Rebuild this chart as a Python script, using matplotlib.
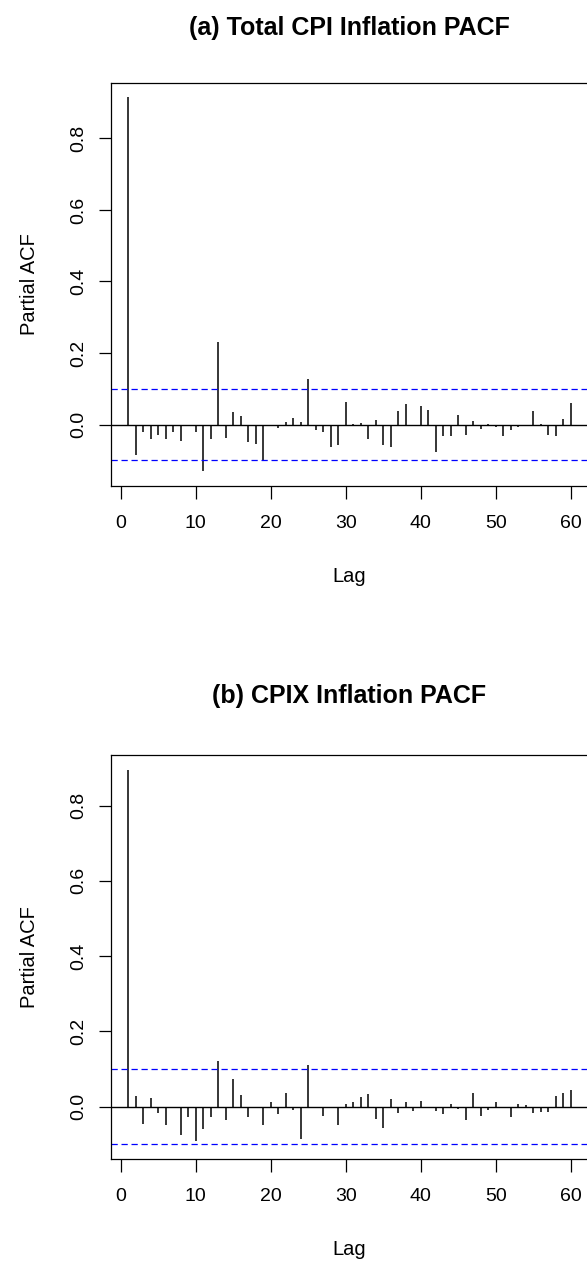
import numpy as np
import matplotlib
matplotlib.use("Agg")
import matplotlib.pyplot as plt

plt.rcParams['font.family'] = ['Liberation Sans', 'DejaVu Sans']

lags = np.arange(1, 61)

# partial autocorrelations, lags 1..60
pacf_cpi = [0.9145, -0.085, -0.022, -0.040, -0.028, -0.039, -0.021, -0.047, -0.004, -0.021,
            -0.130, -0.040, 0.231, -0.038, 0.035, 0.024, -0.050, -0.055, -0.099, -0.005,
            -0.011, 0.006, 0.019, 0.007, 0.127, -0.015, -0.022, -0.064, -0.057, 0.064,
            0.001, 0.005, -0.041, 0.012, -0.056, -0.064, 0.038, 0.058, -0.002, 0.051,
            0.042, -0.078, -0.032, -0.031, 0.026, -0.028, 0.011, -0.012, 0.001, -0.006,
            -0.033, -0.015, -0.007, -0.002, 0.038, 0.001, -0.030, -0.032, 0.015, 0.059]

pacf_cpix = [0.895, 0.029, -0.046, 0.023, -0.018, -0.050, -0.005, -0.077, -0.028, -0.091,
             -0.060, -0.027, 0.121, -0.035, 0.074, 0.030, -0.029, -0.004, -0.050, 0.012,
             -0.019, 0.037, -0.008, -0.086, 0.111, -0.004, -0.024, -0.004, -0.049, 0.006,
             0.011, 0.025, 0.034, -0.032, -0.057, 0.019, -0.017, 0.012, -0.012, 0.016,
             -0.005, -0.013, -0.019, 0.006, -0.006, -0.035, 0.037, -0.025, -0.008, 0.012,
             -0.004, -0.027, 0.006, 0.005, -0.018, -0.014, -0.014, 0.029, 0.036, 0.043]

ci_cpi = 0.099
ci_cpix = 0.099

titles = ["(a) Total CPI Inflation PACF", "(b) CPIX Inflation PACF"]

W, H = 587, 1261
fig = plt.figure(figsize=(W / 100, H / 100), dpi=100)


def r_range(lo, hi):
    # R pads axis ranges by 4% on each side
    pad = 0.04 * (hi - lo)
    return lo - pad, hi + pad


def draw_pacf(box, values, ci, title, title_y):
    left, top, right, bottom = box
    ax = fig.add_axes([left / W, 1 - bottom / H, (right - left) / W, (bottom - top) / H])
    vals = np.asarray(values)
    ax.vlines(lags, 0, vals, color='black', lw=1.1)
    ax.axhline(0, color='black', lw=1.0)
    for y in (ci, -ci):
        ax.axhline(y, color='blue', lw=0.9, dashes=(5, 3))
    ax.set_xlim(*r_range(1, 60))
    ax.set_ylim(*r_range(min(vals.min(), -ci), max(vals.max(), ci)))
    ax.set_xticks(np.arange(0, 61, 10))
    ax.set_yticks([0.0, 0.2, 0.4, 0.6, 0.8])
    ax.set_yticklabels(["0.0", "0.2", "0.4", "0.6", "0.8"], rotation=90, va='center')
    ax.tick_params(direction='out', length=9, width=0.9, labelsize=14)
    ax.tick_params(axis='y', pad=8)
    ax.tick_params(axis='x', pad=12)
    for sp in ax.spines.values():
        sp.set_linewidth(0.9)
    ax.set_xlabel("Lag", fontsize=14.5, labelpad=25)
    ax.set_ylabel("Partial ACF", fontsize=14.5, labelpad=22)
    fig.text((left + right) / 2 / W, 1 - title_y / H, title, ha='center', va='center',
             fontsize=18, fontweight='bold')
    return ax


draw_pacf((110.5, 82.5, 588.4, 486.0), pacf_cpi, ci_cpi, titles[0], 28)
draw_pacf((110.5, 755.0, 588.4, 1158.7), pacf_cpix, ci_cpix, titles[1], 696)

fig.savefig("out.png", dpi=100)
